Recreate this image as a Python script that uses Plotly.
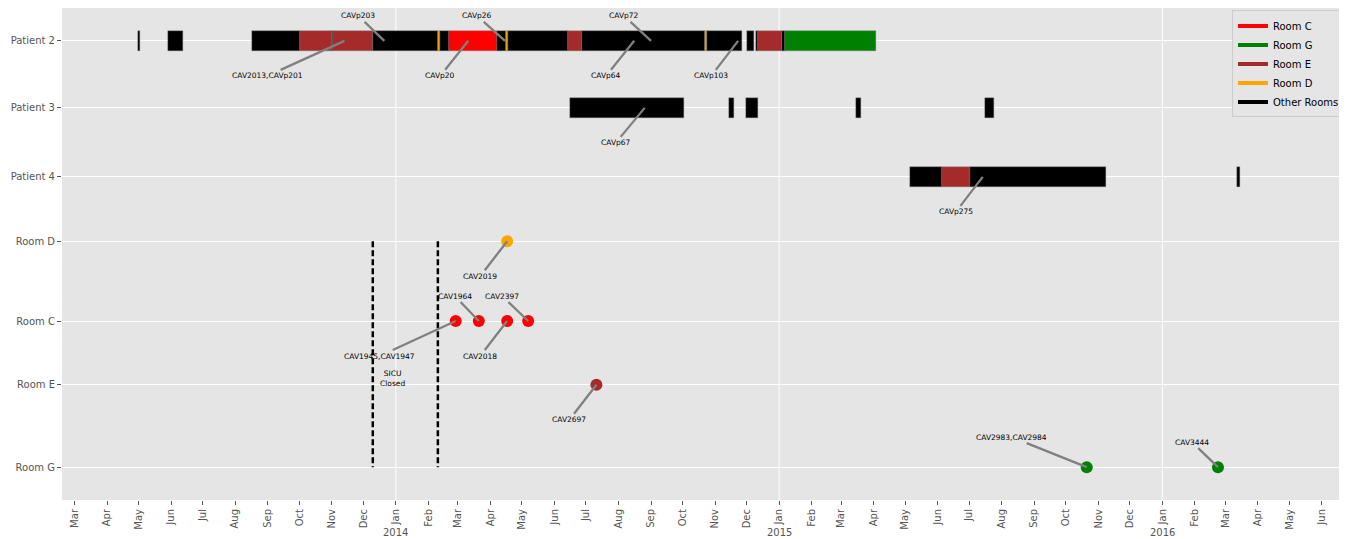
import pandas as pd
import plotly.graph_objects as go

# ---------------- data ----------------
ROWS = ["Patient 2", "Patient 3", "Patient 4", "Room D", "Room C", "Room E", "Room G"]

P2_STARTS = ["2013-04-30", "2013-05-29", "2013-08-17", "2013-10-02", "2013-11-01", "2013-11-02",
             "2013-12-10", "2014-02-10", "2014-02-12", "2014-02-21", "2014-04-07", "2014-04-16",
             "2014-04-18", "2014-06-14", "2014-06-27", "2014-10-22", "2014-10-24", "2014-12-01",
             "2014-12-10", "2014-12-12", "2015-01-04", "2015-01-07"]
P2_ENDS = ["2013-05-02", "2013-06-12", "2013-10-02", "2013-11-01", "2013-11-02", "2013-12-10",
           "2014-02-10", "2014-02-12", "2014-02-21", "2014-04-07", "2014-04-16", "2014-04-18",
           "2014-06-14", "2014-06-27", "2014-10-22", "2014-10-24", "2014-11-27", "2014-12-08",
           "2014-12-12", "2015-01-04", "2015-01-07", "2015-04-03"]
P2_ROOMS = ["O", "O", "O", "E", "O", "E", "O", "D", "O", "C", "O", "D",
            "O", "E", "O", "D", "O", "O", "O", "E", "O", "G"]

P3_STARTS = ["2014-06-16", "2014-11-14", "2014-11-30", "2015-03-15", "2015-07-16"]
P3_ENDS = ["2014-10-02", "2014-11-19", "2014-12-12", "2015-03-20", "2015-07-25"]
P3_ROOMS = ["O", "O", "O", "O", "O"]

P4_STARTS = ["2015-05-06", "2015-06-05", "2015-07-02", "2016-03-12"]
P4_ENDS = ["2015-06-05", "2015-07-02", "2015-11-08", "2016-03-15"]
P4_ROOMS = ["O", "E", "O", "O"]

ROOM_D_DATES = ["2014-04-17"]
ROOM_C_DATES = ["2014-02-27", "2014-03-21", "2014-04-17", "2014-05-07"]
ROOM_E_DATES = ["2014-07-11"]
ROOM_G_DATES = ["2015-10-21", "2016-02-23"]

SICU_CLOSED = ["2013-12-10", "2014-02-10"]

ANN_LABELS = ["CAVp203", "CAV2013,CAVp201", "CAVp20", "CAVp26", "CAVp72", "CAVp64", "CAVp103",
              "CAVp67", "CAVp275", "CAV2019", "CAV1964", "CAV2397", "CAV1945,CAV1947",
              "CAV2018", "CAV2697", "CAV2983,CAV2984", "CAV3444"]
ANN_DATES = ["2013-12-21", "2013-11-13", "2014-03-11", "2014-04-15", "2014-09-01", "2014-08-16",
             "2014-11-23", "2014-08-26", "2015-07-14", "2014-04-17", "2014-03-21", "2014-05-07",
             "2014-02-27", "2014-04-17", "2014-07-11", "2015-10-21", "2016-02-23"]
ANN_ROWS = ["Patient 2", "Patient 2", "Patient 2", "Patient 2", "Patient 2", "Patient 2", "Patient 2",
            "Patient 3", "Patient 4", "Room D", "Room C", "Room C", "Room C",
            "Room C", "Room E", "Room G", "Room G"]

LEGEND_NAMES = ["Room C", "Room G", "Room E", "Room D", "Other Rooms"]
LEGEND_KEYS = ["C", "G", "E", "D", "O"]

# ---------------- layout / style constants ----------------
ROW_Y = dict(zip(ROWS, [0, 1, 2.03, 2.99, 4.18, 5.13, 6.36]))
COLORS = {"C": "#ff0000", "G": "#008000", "E": "#a52a2a", "D": "#ffa500", "O": "#000000"}
ANN_OFFSETS = [(-26, -25), (-77, 35), (-28, 35), (-28, -25), (-27, -25), (-28, 35), (-27, 35),
               (-29, 35), (-27, 35), (-27, 35), (-24, -25), (-26, -25), (-76, 35),
               (-27, 35), (-27, 35), (-75, -30), (-26, -25)]
FONT = "DejaVu Sans"
TICK_COLOR = "#555555"

fig = go.Figure()

# timeline bars
bar_base, bar_len, bar_y, bar_col = [], [], [], []
for row, starts, ends, rooms in [("Patient 2", P2_STARTS, P2_ENDS, P2_ROOMS),
                                 ("Patient 3", P3_STARTS, P3_ENDS, P3_ROOMS),
                                 ("Patient 4", P4_STARTS, P4_ENDS, P4_ROOMS)]:
    for s, e, r in zip(starts, ends, rooms):
        d = (pd.Timestamp(e) - pd.Timestamp(s)).total_seconds() * 1000
        bar_base.append(s)
        bar_len.append(d)
        bar_y.append(ROW_Y[row])
        bar_col.append(COLORS[r])

fig.add_trace(go.Bar(orientation="h", base=bar_base, x=bar_len, y=bar_y, width=0.3,
                     marker=dict(color=bar_col, line=dict(width=0.4, color="#777777")),
                     showlegend=False, hoverinfo="skip"))

# SICU closed dashed lines
for d in SICU_CLOSED:
    fig.add_trace(go.Scatter(x=[d, d], y=[ROW_Y["Room D"], ROW_Y["Room G"]], mode="lines",
                             line=dict(color="black", width=2.5, dash="6px,3px"),
                             showlegend=False, hoverinfo="skip"))

# room points
for row, dates, key in [("Room D", ROOM_D_DATES, "D"), ("Room C", ROOM_C_DATES, "C"),
                        ("Room E", ROOM_E_DATES, "E"), ("Room G", ROOM_G_DATES, "G")]:
    fig.add_trace(go.Scatter(x=dates, y=[ROW_Y[row]] * len(dates), mode="markers",
                             marker=dict(color=COLORS[key], size=12),
                             showlegend=False))

# legend entries
for name, key in zip(LEGEND_NAMES, LEGEND_KEYS):
    fig.add_trace(go.Scatter(x=[None], y=[None], mode="lines", name=name,
                             line=dict(color=COLORS[key], width=4)))

# annotations with arrows
for lab, d, row, (ax, ay) in zip(ANN_LABELS, ANN_DATES, ANN_ROWS, ANN_OFFSETS):
    fig.add_annotation(x=d, y=ROW_Y[row], text=lab, showarrow=True, ax=ax, ay=ay,
                       arrowhead=0, arrowwidth=2.3, arrowcolor="#808080",
                       font=dict(family=FONT, size=7.5, color="black"))

# SICU closed text
fig.add_annotation(x="2013-12-29", y=5.03, text="SICU<br>Closed", showarrow=False,
                   font=dict(family=FONT, size=7.5, color="black"))

# month ticks and year labels
months = pd.date_range("2013-03-01", "2016-06-01", freq="MS")
years = [m for m in months if m.month == 1]
for y in years:
    fig.add_shape(type="line", x0=y, x1=y, xref="x", y0=0, y1=1, yref="paper",
                  line=dict(color="white", width=1), layer="below")
    fig.add_annotation(x=y, y=0, yref="paper", yanchor="top", text=str(y.year), showarrow=False,
                       yshift=-25, font=dict(family=FONT, size=10, color=TICK_COLOR))

fig.update_layout(
    width=1339, height=531,
    margin=dict(l=54, r=2, t=0, b=39),
    paper_bgcolor="white", plot_bgcolor="#e5e5e5",
    font=dict(family=FONT, color=TICK_COLOR),
    barmode="overlay", bargap=0,
    legend=dict(x=1, xanchor="right", y=0.995, yanchor="top", bgcolor="#e5e5e5",
                bordercolor="#cccccc", borderwidth=1, tracegroupgap=0,
                font=dict(family=FONT, size=10, color="black")),
    xaxis=dict(type="date", range=["2013-02-17", "2016-06-23"], showgrid=False, zeroline=False,
               tickmode="array", tickvals=list(months), ticktext=[m.strftime("%b") for m in months],
               tickangle=-90, ticks="outside", ticklen=4, tickcolor=TICK_COLOR,
               tickfont=dict(family=FONT, size=10, color=TICK_COLOR), automargin=False),
    yaxis=dict(range=[6.85, -0.49], tickmode="array", tickvals=[ROW_Y[r] for r in ROWS],
               ticktext=ROWS, showgrid=True, gridcolor="white", gridwidth=1, zeroline=False,
               ticks="outside", ticklen=4, tickcolor=TICK_COLOR,
               tickfont=dict(family=FONT, size=10, color=TICK_COLOR), automargin=False),
)

fig.write_html("out.html")
